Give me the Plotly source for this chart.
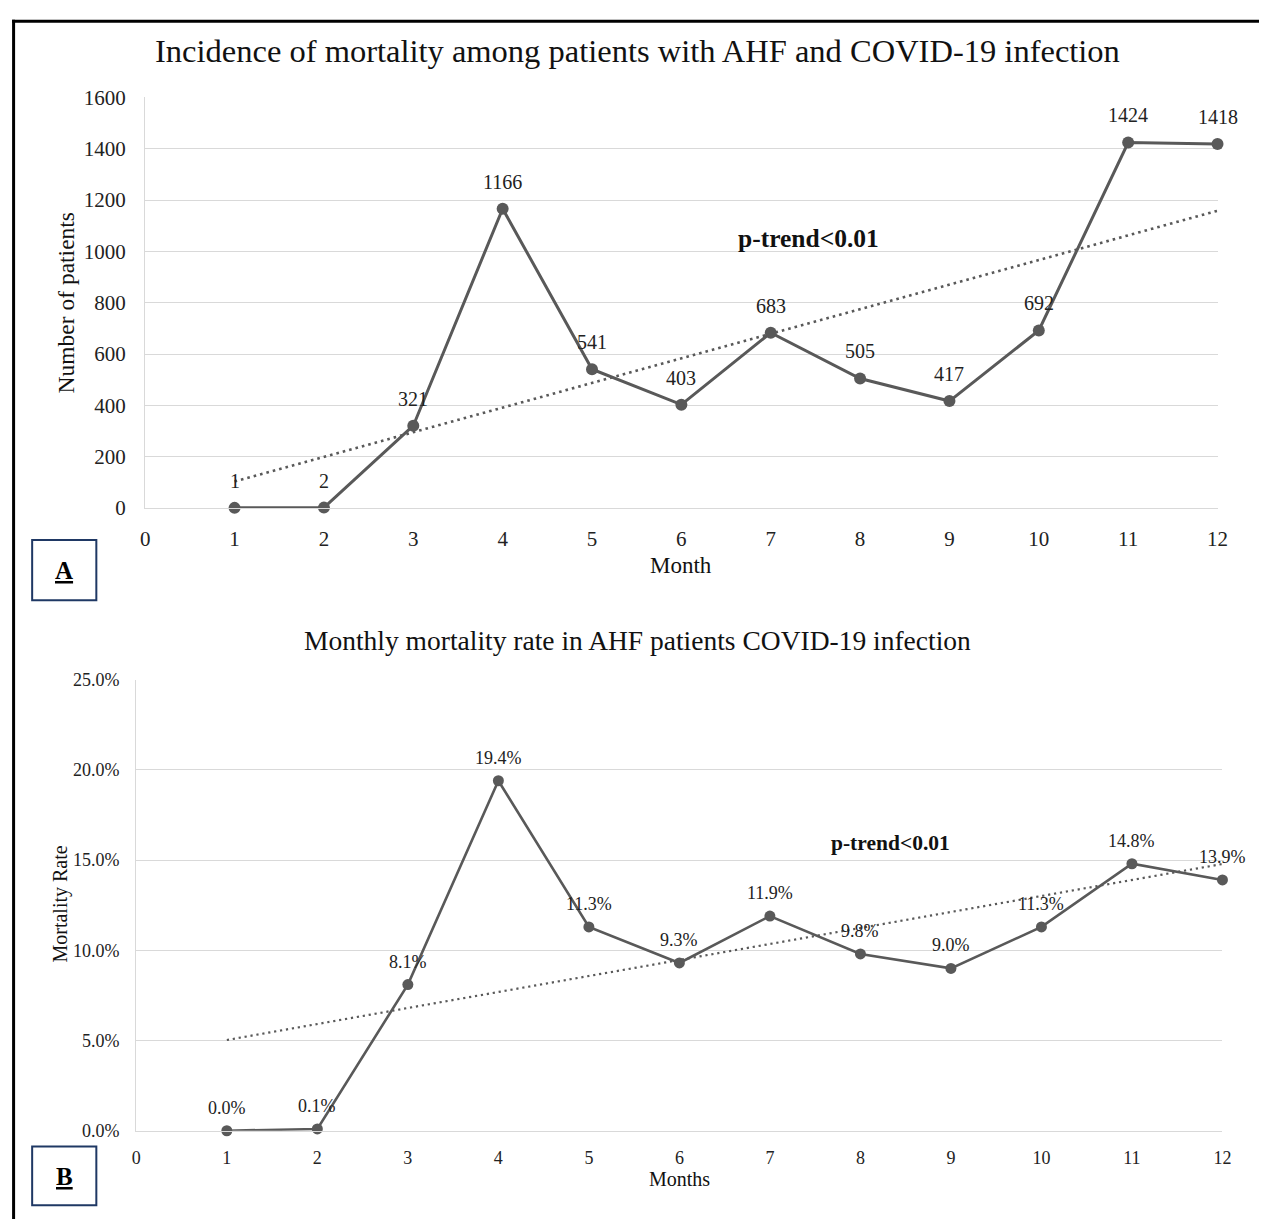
import numpy as np
import plotly.graph_objects as go

months = list(range(1, 13))
deaths = [1, 2, 321, 1166, 541, 403, 683, 505, 417, 692, 1424, 1418]
rates = [0.000, 0.001, 0.081, 0.194, 0.113, 0.093, 0.119, 0.098, 0.090, 0.113, 0.148, 0.139]
rate_labels = ["0.0%", "0.1%", "8.1%", "19.4%", "11.3%", "9.3%", "11.9%", "9.8%", "9.0%", "11.3%", "14.8%", "13.9%"]
title_a = "Incidence of mortality among patients with AHF and COVID-19 infection"
title_b = "Monthly mortality rate in AHF patients COVID-19 infection"
x_ticks = list(range(0, 13))

W, H = 1270, 1231
FONT = "Liberation Serif, Times New Roman, serif"
GREY = "#595959"
GRID = "#d9d9d9"


def px(x):
    return x / W


def py(y):
    return 1 - y / H


# linear trend lines (Excel-style least squares)
ma = np.array(months, dtype=float)
ka, ba = np.polyfit(ma, np.array(deaths, dtype=float), 1)
kb, bb = np.polyfit(ma, np.array(rates, dtype=float), 1)
trend_x = [months[0], months[-1]]
trend_a = [ka * v + ba for v in trend_x]
trend_b = [kb * v + bb for v in trend_x]

fig = go.Figure()

fig.add_trace(go.Scatter(x=trend_x, y=trend_a, mode="lines", xaxis="x", yaxis="y",
                         line=dict(color=GREY, width=2.6, dash="2.6px,4px"), cliponaxis=False,
                         showlegend=False, hoverinfo="skip"))
fig.add_trace(go.Scatter(x=months, y=deaths, mode="lines+markers", xaxis="x", yaxis="y",
                         line=dict(color=GREY, width=3), marker=dict(size=12, color=GREY),
                         cliponaxis=False, showlegend=False))

fig.add_trace(go.Scatter(x=trend_x, y=trend_b, mode="lines", xaxis="x2", yaxis="y2",
                         line=dict(color=GREY, width=2.2, dash="2.2px,3.8px"), cliponaxis=False,
                         showlegend=False, hoverinfo="skip"))
fig.add_trace(go.Scatter(x=months, y=rates, mode="lines+markers", xaxis="x2", yaxis="y2",
                         line=dict(color=GREY, width=2.6), marker=dict(size=11, color=GREY),
                         cliponaxis=False, showlegend=False))

annotations = []
for m, v in zip(months, deaths):
    annotations.append(dict(x=m, y=v, xref="x", yref="y", text=str(v), showarrow=False,
                            yshift=27, font=dict(family=FONT, size=20, color="#222")))
for m, v, t in zip(months, rates, rate_labels):
    annotations.append(dict(x=m, y=v, xref="x2", yref="y2", text=t, showarrow=False,
                            yshift=23, font=dict(family=FONT, size=18, color="#222")))


def paper_text(x, y, text, size, angle=0, color="#111"):
    return dict(x=px(x), y=py(y), xref="paper", yref="paper", text=text, showarrow=False,
                textangle=angle, xanchor="center", yanchor="middle",
                font=dict(family=FONT, size=size, color=color))


annotations += [
    paper_text(641, 40, title_a, 32.5),
    paper_text(641, 641, title_b, 27.5),
    paper_text(685, 564, "Month", 23),
    paper_text(62, 297, "Number of patients", 23.5, angle=-90),
    paper_text(683, 1190, "Months", 20),
    paper_text(56, 910, "Mortality Rate", 20, angle=-90),
    paper_text(814, 231, "<b>p-trend<0.01</b>", 25.5),
    paper_text(897, 848, "<b>p-trend<0.01</b>", 21.5),
    paper_text(60, 570, "<b><u>A</u></b>", 25, color="#000"),
    paper_text(60, 1188, "<b><u>B</u></b>", 25, color="#000"),
]

shapes = [
    dict(type="line", xref="paper", yref="paper", x0=px(8.7), x1=px(8.7), y0=py(8), y1=0,
         line=dict(color="black", width=3)),
    dict(type="line", xref="paper", yref="paper", x0=px(7.2), x1=1, y0=py(9.5), y1=py(9.5),
         line=dict(color="black", width=3)),
    dict(type="rect", xref="paper", yref="paper", x0=px(27.5), x1=px(92.5), y0=py(538.5), y1=py(600),
         line=dict(color="#1f3864", width=2)),
    dict(type="rect", xref="paper", yref="paper", x0=px(27.5), x1=px(92.5), y0=py(1157), y1=py(1217),
         line=dict(color="#1f3864", width=2)),
]

axis_common = dict(showgrid=False, zeroline=False, ticks="", showline=True, linecolor=GRID,
                   linewidth=1.3)

fig.update_layout(
    width=W, height=H, margin=dict(l=0, r=0, t=0, b=0),
    paper_bgcolor="white", plot_bgcolor="white",
    font=dict(family=FONT, color="#222"),
    xaxis=dict(domain=[px(142), px(1228)], range=[0, 12], tickvals=x_ticks, anchor="y",
               tickfont=dict(size=21, family=FONT, color="#222"), ticklabelstandoff=12,
               **axis_common),
    yaxis=dict(domain=[py(506), py(87)], range=[0, 1600], dtick=200, anchor="x",
               showgrid=True, gridcolor=GRID, gridwidth=1.3, zeroline=False, ticks="",
               showline=True, linecolor=GRID, linewidth=1.3,
               tickfont=dict(size=21, family=FONT, color="#222"), ticklabelstandoff=14),
    xaxis2=dict(domain=[px(133), px(1233)], range=[0, 12], tickvals=x_ticks, anchor="y2",
                tickfont=dict(size=18, family=FONT, color="#222"), ticklabelstandoff=10,
                **axis_common),
    yaxis2=dict(domain=[py(1141), py(681)], range=[0, 0.25], dtick=0.05, tickformat=".1%",
                anchor="x2", showgrid=True, gridcolor=GRID, gridwidth=1.3, zeroline=False,
                ticks="", showline=True, linecolor=GRID, linewidth=1.3,
                tickfont=dict(size=18, family=FONT, color="#222"), ticklabelstandoff=12),
    annotations=annotations,
    shapes=shapes,
)

# remove the browser's default body margin so the figure fills the window exactly
fig.write_html("out.html", config={"displayModeBar": False},
               post_script="document.body.style.margin='0';document.body.style.overflow='hidden';")
